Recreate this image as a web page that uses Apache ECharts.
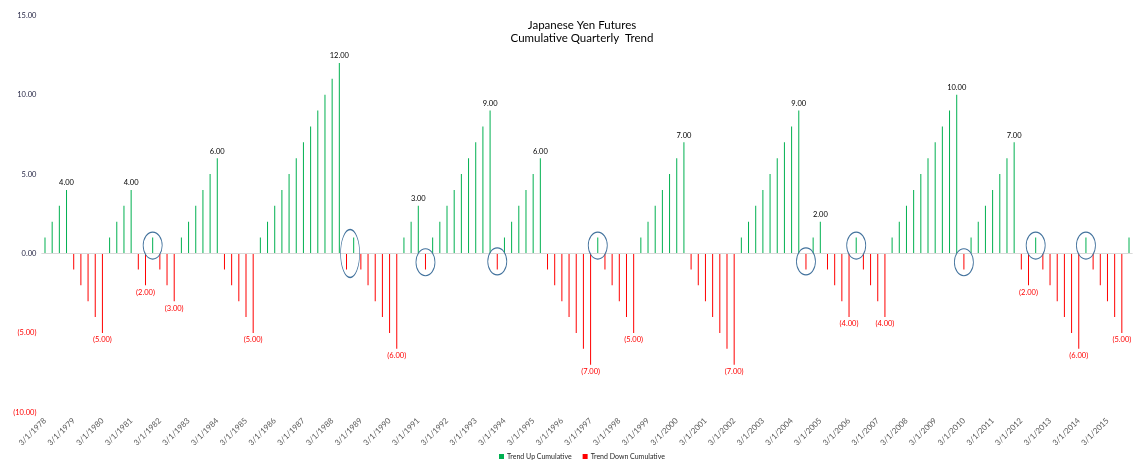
<!DOCTYPE html>
<html>
<head>
<meta charset="utf-8">
<script src="https://cdn.jsdelivr.net/npm/echarts@6/dist/echarts.min.js"></script>
<style>
html,body{margin:0;padding:0;background:#fff;}
#c{width:1140px;height:467px;}
</style>
</head>
<body>
<div id="c"></div>
<script>
// Quarterly categories (first day of each quarter), 1978 Q1 .. 2015 Q4
const firstYear = 1978;
const lastYear = 2015;
const quarterMonths = [3, 6, 9, 12];
const categories = [];
for (let y = firstYear; y <= lastYear; y++) {
  for (const m of quarterMonths) categories.push(m + '/1/' + y);
}

// Cumulative quarterly trend values (positive = trend up, negative = trend down)
const cumulative = [
  1, 2, 3, 4,
  -1, -2, -3, -4, -5,
  1, 2, 3, 4,
  -1, -2,
  1,
  -1, -2, -3,
  1, 2, 3, 4, 5, 6,
  -1, -2, -3, -4, -5,
  1, 2, 3, 4, 5, 6, 7, 8, 9, 10, 11, 12,
  -1,
  1,
  -1, -2, -3, -4, -5, -6,
  1, 2, 3,
  -1,
  1, 2, 3, 4, 5, 6, 7, 8, 9,
  -1,
  1, 2, 3, 4, 5, 6,
  -1, -2, -3, -4, -5, -6, -7,
  1,
  -1, -2, -3, -4, -5,
  1, 2, 3, 4, 5, 6, 7,
  -1, -2, -3, -4, -5, -6, -7,
  1, 2, 3, 4, 5, 6, 7, 8, 9,
  -1,
  1, 2,
  -1, -2, -3, -4,
  1,
  -1, -2, -3, -4,
  1, 2, 3, 4, 5, 6, 7, 8, 9, 10,
  -1,
  1, 2, 3, 4, 5, 6, 7,
  -1, -2,
  1,
  -1, -2, -3, -4, -5, -6,
  1,
  -1, -2, -3, -4, -5,
  1
];

// Indices of bars that carry a value label (end of each run)
const labeledIdx = [3, 8, 12, 14, 18, 24, 29, 41, 49, 52, 62, 69, 76, 82, 89, 96,
  105, 108, 112, 117, 127, 135, 137, 144, 150];

// Annotation ellipses: [category index, centre value]
const circled = [[15, 0.5], [53, -0.55], [63, -0.5], [77, 0.5], [106, -0.5],
  [113, 0.5], [128, -0.55], [138, 0.5], [145, 0.5]];
const circledPair = [42, 0];

const yTicks = { min: -10, max: 15, interval: 5 };

const GREEN = '#00B050';
const RED = '#FF0000';
const FONT = 'Lato';

function fmt(v) {
  return v < 0 ? '(' + Math.abs(v).toFixed(2) + ')' : v.toFixed(2);
}

const upData = cumulative.map((v, i) => {
  if (v <= 0) return null;
  const item = { value: v };
  if (labeledIdx.includes(i)) item.label = { show: true };
  return item;
});
const downData = cumulative.map((v, i) => {
  if (v >= 0) return null;
  const item = { value: v };
  if (labeledIdx.includes(i)) item.label = { show: true };
  return item;
});

const ellipse = 'path://M50,0 A50,50 0 1,1 50,100 A50,50 0 1,1 50,0 Z';
const markData = circled.map(c => ({
  coord: [c[0], c[1]], symbol: ellipse, symbolSize: [19, 27]
}));
markData.push({ coord: [circledPair[0], circledPair[1]], symbol: ellipse, symbolSize: [19, 48], symbolOffset: [3.6, 0] });

const chart = echarts.init(document.getElementById('c'), null, { renderer: 'canvas' });
chart.setOption({
  animation: false,
  backgroundColor: '#fff',
  textStyle: { fontFamily: FONT },
  title: {
    text: 'Japanese Yen Futures\nCumulative Quarterly  Trend',
    left: 577, top: 14, textAlign: 'center',
    textStyle: { fontFamily: FONT, fontSize: 11.5, fontWeight: 'normal', color: '#000', lineHeight: 13 }
  },
  legend: {
    top: 448, left: 494,
    icon: 'rect', itemWidth: 5, itemHeight: 5, itemGap: 11,
    textStyle: { fontFamily: FONT, fontSize: 7, color: '#262626', padding: [0, 0, 0, -2] },
    data: ['Trend Up Cumulative', 'Trend Down Cumulative']
  },
  grid: { left: 41.4, right: 7.4, top: 15.3, bottom: 54.7, containLabel: false },
  xAxis: {
    type: 'category',
    data: categories,
    boundaryGap: true,
    axisLine: { show: false, onZero: false },
    axisTick: { show: false },
    splitLine: { show: false },
    axisLabel: {
      interval: 3, rotate: 45, margin: 7,
      fontFamily: FONT, fontSize: 8, color: '#595959'
    }
  },
  yAxis: {
    type: 'value',
    min: yTicks.min, max: yTicks.max, interval: yTicks.interval,
    axisLine: { show: false },
    axisTick: { show: false },
    splitLine: { show: false },
    axisLabel: {
      margin: 5, fontFamily: FONT, fontSize: 7.5, color: '#1f1f3f',
      formatter: v => v < 0 ? '{n|' + fmt(v) + '}' : fmt(v),
      rich: { n: { color: RED, fontFamily: FONT, fontSize: 7.5 } }
    }
  },
  series: [
    {
      name: 'Trend Up Cumulative',
      type: 'bar',
      data: upData,
      barWidth: 1,
      barGap: '-100%',
      itemStyle: { color: GREEN },
      label: {
        show: false, position: 'top', distance: 3,
        fontFamily: FONT, fontSize: 7.5, color: '#000',
        formatter: p => fmt(p.value)
      },
      markLine: {
        silent: true, symbol: 'none',
        label: { show: false },
        lineStyle: { color: '#d9d9d9', width: 1, type: 'solid' },
        data: [{ yAxis: 0 }]
      },
      markPoint: {
        silent: true,
        label: { show: false },
        itemStyle: { color: 'rgba(0,0,0,0)', borderColor: '#41719C', borderWidth: 1 },
        data: markData
      }
    },
    {
      name: 'Trend Down Cumulative',
      type: 'bar',
      data: downData,
      barWidth: 1,
      barGap: '-100%',
      itemStyle: { color: RED },
      label: {
        show: false, position: 'bottom', distance: 3,
        fontFamily: FONT, fontSize: 7.5, color: RED,
        formatter: p => fmt(p.value)
      }
    }
  ]
});
</script>
</body>
</html>
